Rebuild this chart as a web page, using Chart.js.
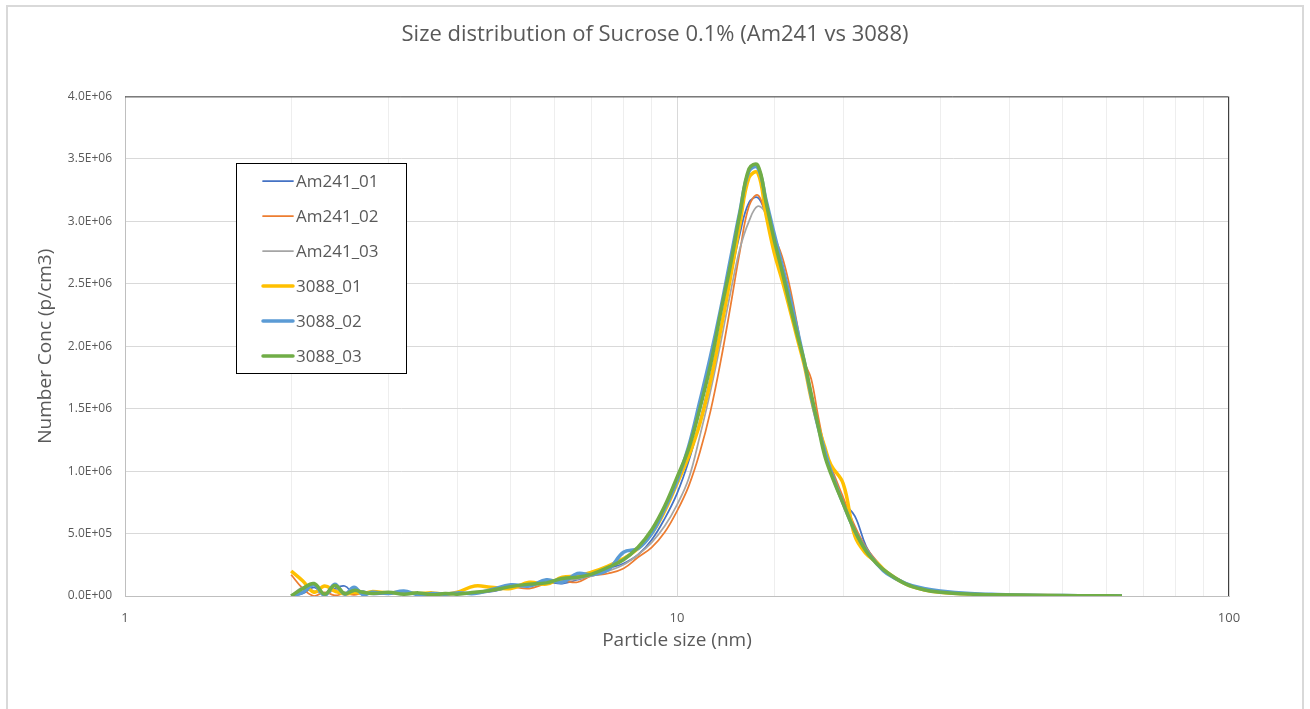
<!DOCTYPE html>
<html>
<head>
<meta charset="utf-8">
<script src="https://cdn.jsdelivr.net/npm/chart.js@4.4.1/dist/chart.umd.min.js"></script>
<style>
  html, body { margin: 0; padding: 0; background: #fff; }
  #wrap { width: 1310px; height: 709px; }
</style>
</head>
<body>
<div id="wrap"><canvas id="myChart" width="1310" height="709"></canvas></div>
<script>
// particle size bins (nm)
var sizeNm = [2.0, 2.1, 2.2, 2.3, 2.4, 2.5, 2.6, 2.7, 2.8, 3.0,
    3.2, 3.4, 3.6, 3.8, 4.0, 4.3, 4.6, 5.0, 5.4, 5.8,
    6.2, 6.6, 7.0, 7.5, 8.0, 8.5, 9.0, 9.5, 10.0, 10.5,
    11.0, 11.5, 12.0, 12.5, 13.0, 13.5, 14.0, 14.5, 15.0, 15.5,
    16.0, 16.5, 17.0, 17.5, 18.0, 18.5, 19.0, 20.0, 21.0, 22.0,
    23.0, 24.0, 26.0, 28.0, 30.0, 34.0, 38.0, 44.0, 50.0, 57.0, 64.0];

// number conc, in thousands of p/cm3
var am241_01 = [0, 20, 70, 10, 60, 80, 20, 40, 15, 20,
    30, 15, 20, 25, 20, 25, 35, 70, 90, 110,
    100, 130, 165, 220, 260, 330, 450, 620, 820, 1080,
    1400, 1750, 2150, 2550, 2900, 3150, 3190, 3050, 2850, 2600,
    2350, 2100, 1870, 1600, 1370, 1180, 1010, 760, 640, 400,
    270, 190, 100, 60, 40, 20, 12, 6, 3, 2, 1];
var am241_02 = [170, 60, 0, 30, 5, 20, 10, 25, 20, 30,
    20, 15, 25, 20, 25, 20, 40, 70, 60, 100,
    120, 110, 160, 180, 220, 310, 390, 510, 680, 880,
    1150, 1480, 1880, 2320, 2760, 3120, 3210, 3050, 2880, 2720,
    2480, 2180, 1880, 1740, 1450, 1200, 1040, 790, 560, 390,
    280, 190, 95, 55, 35, 18, 10, 5, 3, 2, 1];
var am241_03 = [0, 70, 40, 20, 50, 30, 25, 35, 20, 25,
    20, 20, 15, 20, 20, 25, 40, 65, 85, 100,
    120, 135, 160, 200, 250, 330, 430, 560, 730, 940,
    1280, 1640, 2030, 2430, 2780, 3000, 3120, 3060, 2830, 2580,
    2330, 2090, 1860, 1590, 1360, 1170, 1000, 750, 530, 370,
    260, 185, 95, 55, 35, 18, 10, 5, 3, 2, 1];
var s3088_01 = [200, 120, 30, 80, 40, 15, 30, 20, 35, 25,
    30, 20, 25, 15, 30, 80, 70, 60, 110, 95,
    150, 160, 190, 240, 300, 380, 500, 680, 900, 1120,
    1380, 1720, 2130, 2550, 2980, 3350, 3390, 3050, 2750, 2530,
    2300, 2070, 1850, 1580, 1370, 1200, 1050, 900, 480, 340,
    270, 190, 95, 50, 30, 15, 8, 5, 3, 2, 1];
var s3088_02 = [0, 30, 90, 5, 95, 15, 70, 10, 30, 20,
    40, 10, 20, 15, 25, 20, 50, 90, 80, 130,
    110, 180, 170, 210, 350, 380, 500, 700, 920, 1200,
    1560, 1920, 2300, 2700, 3080, 3400, 3430, 3170, 2900, 2650,
    2400, 2140, 1880, 1600, 1360, 1170, 1000, 740, 520, 370,
    260, 180, 100, 60, 40, 20, 12, 6, 4, 2, 1];
var s3088_03 = [0, 60, 100, 15, 85, 20, 45, 30, 20, 30,
    15, 25, 10, 20, 15, 30, 45, 75, 95, 105,
    140, 150, 175, 230, 290, 390, 530, 720, 950, 1180,
    1500, 1850, 2270, 2650, 3060, 3420, 3450, 3150, 2850, 2600,
    2340, 2100, 1880, 1620, 1370, 1130, 980, 740, 520, 360,
    260, 190, 95, 50, 30, 15, 10, 6, 4, 2, 1];

var seriesNames = ['Am241_01', 'Am241_02', 'Am241_03', '3088_01', '3088_02', '3088_03'];
var seriesValues = [am241_01, am241_02, am241_03, s3088_01, s3088_02, s3088_03];
var seriesColors = ['#4472C4', '#ED7D31', '#A5A5A5', '#FFC000', '#5B9BD5', '#70AD47'];
var seriesWidths = [1.75, 1.75, 1.75, 3.5, 3.5, 3.5];

var yTicks = [0, 500000, 1000000, 1500000, 2000000, 2500000, 3000000, 3500000, 4000000];

function toPoints(vals) {
    return sizeNm.map(function (s, i) { return { x: s, y: vals[i] * 1000 }; });
}

function sciLabel(v) {
    if (v === 0) return '0.0E+00';
    var e = Math.floor(Math.log10(v));
    var m = v / Math.pow(10, e);
    return m.toFixed(1) + 'E+' + (e < 10 ? '0' + e : e);
}

var datasets = seriesNames.map(function (name, i) {
    return {
        label: name,
        data: toPoints(seriesValues[i]),
        borderColor: seriesColors[i],
        backgroundColor: seriesColors[i],
        borderWidth: seriesWidths[i],
        pointRadius: 0,
        tension: 0.4,
        fill: false,
        order: seriesNames.length - i
    };
});

var textGrey = '#595959';

// frame round the whole chart + top/right edge of the plot area + boxed legend
var decor = {
    id: 'decor',
    beforeDraw: function (chart) {
        var c = chart.ctx;
        c.save();
        c.fillStyle = '#fff';
        c.fillRect(0, 0, chart.width, chart.height);
        c.strokeStyle = '#D9D9D9';
        c.lineWidth = 2;
        c.strokeRect(7, 6, 1296, 720);
        c.restore();
    },
    afterDraw: function (chart) {
        var c = chart.ctx, a = chart.chartArea;
        c.save();
        c.strokeStyle = '#404040';
        c.lineWidth = 1;
        c.beginPath();
        c.moveTo(a.left, a.top + 0.5);
        c.lineTo(a.right - 0.5, a.top + 0.5);
        c.lineTo(a.right - 0.5, a.bottom);
        c.stroke();

        // legend
        var bx = 236, by = 163, bw = 170, bh = 210;
        c.fillStyle = '#fff';
        c.fillRect(bx, by, bw, bh);
        c.strokeStyle = '#000';
        c.strokeRect(bx + 0.5, by + 0.5, bw, bh);
        c.font = '17px "Open Sans"';
        c.textBaseline = 'middle';
        c.textAlign = 'left';
        chart.data.datasets.forEach(function (ds, i) {
            var y = 181 + i * 35;
            c.strokeStyle = ds.borderColor;
            c.lineWidth = ds.borderWidth;
            c.lineCap = 'round';
            c.beginPath();
            c.moveTo(263, y);
            c.lineTo(293, y);
            c.stroke();
            c.fillStyle = textGrey;
            c.fillText(ds.label, 296, y + 1);
        });
        c.restore();
    }
};

var ctx = document.getElementById('myChart').getContext('2d');
var myChart = new Chart(ctx, {
    type: 'line',
    data: { datasets: datasets },
    options: {
        responsive: false,
        animation: false,
        layout: { padding: { left: 0, right: 0, top: 12, bottom: 57 } },
        plugins: {
            legend: { display: false },
            tooltip: { enabled: false },
            title: {
                display: true,
                text: 'Size distribution of Sucrose 0.1% (Am241 vs 3088)',
                color: textGrey,
                font: { family: 'Open Sans', size: 22, weight: 'normal' },
                padding: { top: 10, bottom: 48 }
            }
        },
        scales: {
            x: {
                type: 'logarithmic',
                min: 1,
                max: 100,
                afterFit: function (s) { s.height = 56; },
                border: { color: '#BFBFBF' },
                grid: {
                    drawTicks: false,
                    color: function (c) {
                        var v = c.tick ? c.tick.value : 0;
                        return Math.abs(Math.log10(v) % 1) < 1e-9 ? '#D9D9D9' : '#EEEEEE';
                    }
                },
                ticks: {
                    autoSkip: false,
                    maxRotation: 0,
                    padding: 14,
                    color: textGrey,
                    font: { family: 'Open Sans', size: 13 },
                    callback: function (v) {
                        return Math.abs(Math.log10(v) % 1) < 1e-9 ? String(v) : '';
                    }
                },
                title: {
                    display: true,
                    text: 'Particle size (nm)',
                    color: textGrey,
                    font: { family: 'Open Sans', size: 19 },
                    padding: 0
                }
            },
            y: {
                min: 0,
                max: 4000000,
                afterFit: function (s) { s.width = 125; },
                afterBuildTicks: function (s) {
                    s.ticks = yTicks.map(function (v) { return { value: v }; });
                },
                border: { color: '#BFBFBF' },
                grid: { drawTicks: false, color: '#D9D9D9' },
                ticks: {
                    padding: 13,
                    color: textGrey,
                    font: { family: 'Open Sans', size: 12 },
                    callback: function (v) { return sciLabel(v); }
                },
                title: {
                    display: true,
                    text: 'Number Conc (p/cm3)',
                    color: textGrey,
                    font: { family: 'Open Sans', size: 19 },
                    padding: { top: 34, bottom: 0 }
                }
            },
            // empty right-hand strip so the plot ends where the original does
            yRight: {
                position: 'right',
                min: 0,
                max: 4000000,
                afterFit: function (s) { s.width = 81; },
                border: { display: false },
                grid: { display: false },
                ticks: { display: false }
            }
        }
    },
    plugins: [decor]
});
</script>
</body>
</html>
